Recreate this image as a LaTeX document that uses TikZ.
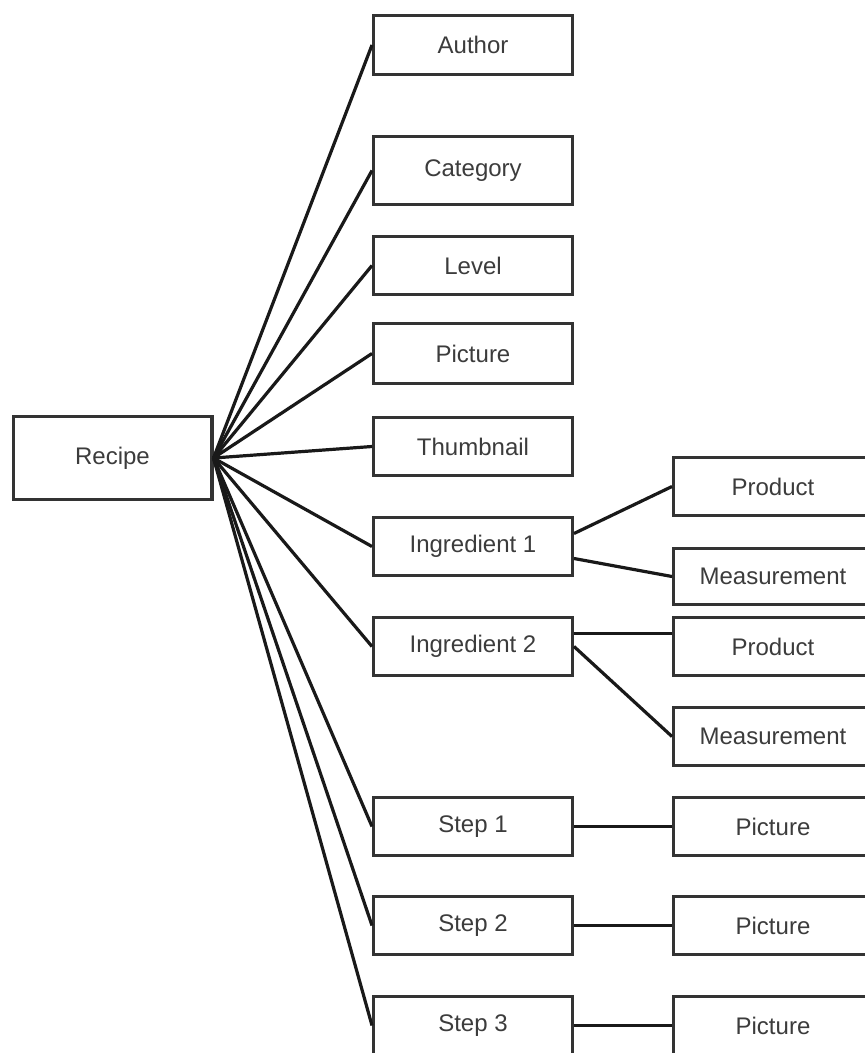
\documentclass[tikz,border=0pt]{standalone}
\usepackage{fontspec}
\setmainfont{Liberation Sans}
\usepackage{xcolor}
\usepackage{tikz}
\usetikzlibrary{positioning}
\definecolor{boxline}{RGB}{51,51,51}
\definecolor{boxtext}{RGB}{60,60,60}

\begin{document}
\begin{tikzpicture}[
  x=1pt,y=-1pt,
  every node/.style={font=\fontsize{24}{28}\selectfont,text=boxtext},
  box/.style={draw=boxline,fill=white,line width=3.4pt,
              minimum width=198.6pt,minimum height=57.6pt,inner sep=0pt},
  recbox/.style={box,minimum height=82.6pt},
  link/.style={line width=3.2pt,black!90}]
\clip (0,0) rectangle (865,1053);
%--- Root ---
\node[recbox] (recipe) at (112.5,458) {Recipe};
%--- Middle column ---
\node[box,minimum height=58.6pt] (author) at (473,45) {Author};
\node[box,minimum height=67.6pt,below=59pt of author] (category) {Category};
\node[box,below=29pt of category] (level) {Level};
\node[box,minimum height=59.6pt,below=26pt of level] (picture) {Picture};
\node[box,below=31pt of picture] (thumb) {Thumbnail};
\node[box,below=39pt of thumb] (ing1) {Ingredient 1};
\node[box,below=39pt of ing1] (ing2) {Ingredient 2};
\node[box,below=119pt of ing2] (step1) {Step 1};
\node[box,below=38pt of step1] (step2) {Step 2};
\node[box,below=39pt of step2] (step3) {Step 3};
%--- Right column ---
\node[box,right=98pt of ing1,yshift=60pt] (prod1) {Product};
\node[box,minimum height=55.6pt,below=30pt of prod1] (meas1) {Measurement};
\node[box,right=98pt of ing2] (prod2) {Product};
\node[box,below=29pt of prod2] (meas2) {Measurement};
\node[box,right=98pt of step1] (pic1) {Picture};
\node[box,right=98pt of step2] (pic2) {Picture};
\node[box,right=98pt of step3] (pic3) {Picture};
%--- Root links ---
\draw[link] (recipe.east)--(author.west);
\draw[link] (recipe.east)--(category.west);
\draw[link] (recipe.east)--(level.west);
\draw[link] (recipe.east)--(picture.west);
\draw[link] (recipe.east)--(thumb.west);
\draw[link] (recipe.east)--(ing1.west);
\draw[link] (recipe.east)--(ing2.west);
\draw[link] (recipe.east)--(step1.west);
\draw[link] (recipe.east)--(step2.west);
\draw[link] (recipe.east)--(step3.west);
%--- Sub links ---
\draw[link] ([yshift=13pt]ing1.east)--(prod1.west);
\draw[link] ([yshift=-12pt]ing1.east)--(meas1.west);
\draw[link] ([yshift=13pt]ing2.east)--([yshift=13pt]prod2.west);
\draw[link] (ing2.east)--(meas2.west);
\draw[link] (step1.east)--(pic1.west);
\draw[link] (step2.east)--(pic2.west);
\draw[link] (step3.east)--(pic3.west);
\end{tikzpicture}
\end{document}
